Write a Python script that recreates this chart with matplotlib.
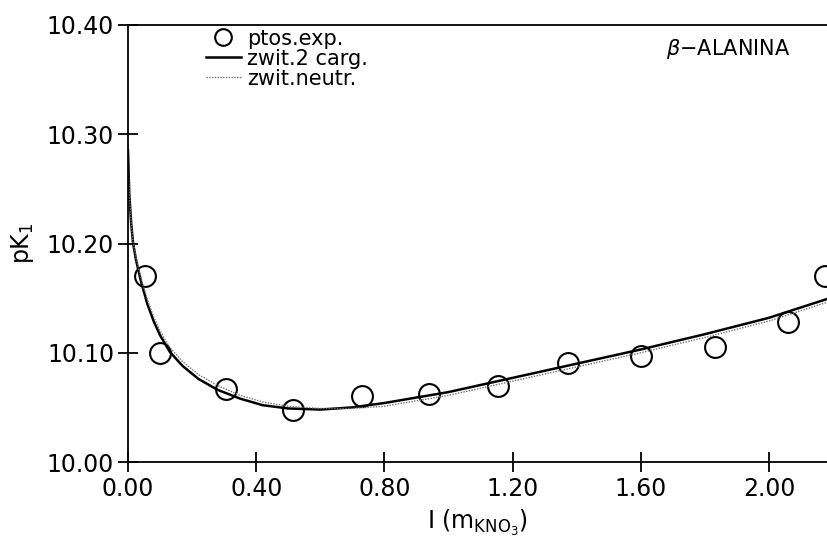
import matplotlib.pyplot as plt

plt.rcParams['font.family'] = 'DejaVu Sans'
plt.rcParams['mathtext.default'] = 'regular'

# experimental points
I_exp = [0.053, 0.100, 0.305, 0.516, 0.730, 0.940, 1.154, 1.372, 1.602, 1.831, 2.060, 2.175]
pk_exp = [10.170, 10.100, 10.067, 10.048, 10.060, 10.062, 10.070, 10.091, 10.097, 10.105, 10.128, 10.170]

# model curves
I_fit = [0, 0.004, 0.01, 0.016, 0.025, 0.04, 0.06, 0.08, 0.1, 0.13, 0.17, 0.22, 0.28,
         0.35, 0.42, 0.5, 0.6, 0.7, 0.8, 0.9, 1.0, 1.2, 1.4, 1.6, 1.8, 2.0, 2.2]
pk_carg = [10.285, 10.245, 10.218, 10.200, 10.185, 10.166, 10.145, 10.129, 10.116, 10.101,
           10.088, 10.076, 10.066, 10.058, 10.052, 10.049, 10.048, 10.050, 10.054, 10.059,
           10.064, 10.077, 10.090, 10.103, 10.117, 10.132, 10.151]
pk_neutr = [10.283, 10.244, 10.218, 10.201, 10.187, 10.169, 10.149, 10.133, 10.120, 10.105,
            10.092, 10.080, 10.070, 10.061, 10.055, 10.051, 10.049, 10.049, 10.051, 10.056,
            10.061, 10.074, 10.087, 10.100, 10.114, 10.129, 10.148]

xticks = [0.0, 0.4, 0.8, 1.2, 1.6, 2.0]
yticks = [10.0, 10.1, 10.2, 10.3, 10.4]

fig = plt.figure(figsize=(8.28, 5.51), dpi=100)
ax = fig.add_axes([128 / 828, 89 / 551, 700 / 828, 437 / 551])

ax.plot(I_exp, pk_exp, 'o', mfc='none', mec='black', mew=1.5, ms=15, label='ptos.exp.')
ax.plot(I_fit, pk_carg, '-', color='black', lw=1.8, label='zwit.2 carg.')
ax.plot(I_fit, pk_neutr, color='0.45', lw=1.0, ls=(0, (1, 1)), label='zwit.neutr.')

ax.set_xlim(0, 700 / 320.5)
ax.set_ylim(10.0, 10.4)
ax.set_xticks(xticks)
ax.set_yticks(yticks)
ax.set_xticklabels(['%.2f' % v for v in xticks])
ax.set_yticklabels(['%.2f' % v for v in yticks])
ax.tick_params(direction='inout', length=14, width=1.3, labelsize=17, pad=3)
ax.tick_params(axis='x', pad=4)

for s in ['left', 'bottom', 'top']:
    ax.spines[s].set_linewidth(1.3)
ax.spines['right'].set_visible(False)

ax.set_ylabel('pK$_1$', fontsize=17, labelpad=8)
ax.set_xlabel(r'I (m$_{KNO_3}$)', fontsize=17, labelpad=5)

ax.text(0.947, 0.945, r'$\it{\beta}$−ALANINA', transform=ax.transAxes,
        ha='right', va='center', fontsize=15)

ax.legend(loc='upper left', bbox_to_anchor=(0.09, 1.025), frameon=False, fontsize=15,
          handlelength=1.7, handletextpad=0.3, labelspacing=0.0, markerscale=0.8,
          borderpad=0.2)

fig.savefig('out.png', dpi=100)
